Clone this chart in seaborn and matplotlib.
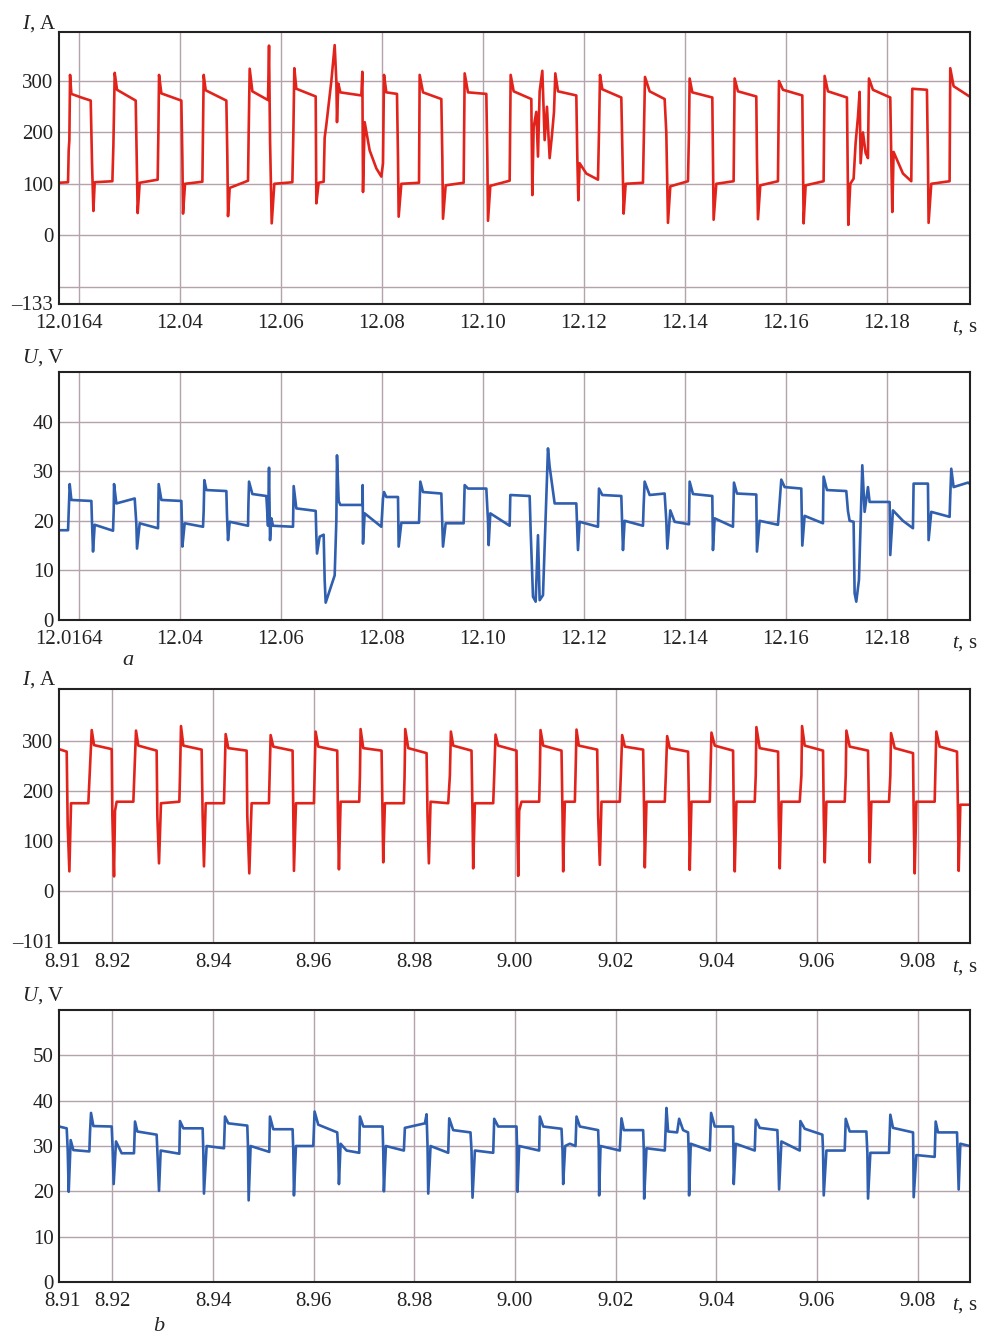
#!/usr/bin/env python3
import matplotlib
matplotlib.use('Agg')
import numpy as np
import pandas as pd
import seaborn as sns
from matplotlib import pyplot as plt
from matplotlib.transforms import ScaledTranslation

# ---- panel a: t in ms after 12.000 s ----
a_ms = [16.1, 17.89, 18.02, 18.15, 18.29, 18.55, 20.53, 22.38, 22.64, 22.91, 23.17,
        26.67, 26.87, 27.13, 27.59, 31.29, 31.55, 31.68, 32.08,
        35.64, 35.78, 35.91, 36.37, 40.33, 40.53, 40.66, 41.06,
        44.49, 44.62, 44.75, 45.15, 49.24, 49.44, 49.57, 49.90,
        53.53, 53.66, 53.86, 54.39, 57.49, 57.69, 57.89, 58.22, 58.74,
        62.31, 62.51, 62.70, 63.10, 66.93, 67.06, 67.52, 68.51, 68.71,
        69.04, 69.57, 70.03, 70.69, 71.02, 71.15, 71.42, 71.81,
        75.97, 76.17, 76.30, 76.63, 77.62, 78.94, 79.93,
        80.26, 80.46, 80.92, 83.03, 83.23, 83.36, 83.89,
        87.39, 87.52, 88.18, 91.81, 92.01, 92.14, 92.67,
        96.23, 96.43, 97.09, 100.72, 100.92, 101.05, 101.51,
        105.34, 105.54, 106.13, 109.63, 109.83, 110.09, 110.62, 110.95, 111.28,
        111.81, 112.27, 112.73, 113.26, 113.72, 114.12, 114.38, 114.91,
        118.54, 118.74, 118.94, 119.20, 120.52, 122.83,
        123.03, 123.23, 123.69, 127.45, 127.65, 127.91, 128.31,
        131.74, 131.94, 132.14, 133.06, 136.03, 136.36, 136.69, 137.15,
        140.65, 140.85, 140.98, 141.51, 145.47, 145.60, 145.73, 146.26,
        149.69, 149.89, 150.55, 154.18, 154.31, 154.51, 154.97,
        158.47, 158.67, 159.46, 163.29, 163.42, 163.55, 163.95,
        167.51, 167.71, 168.37, 172.13, 172.26, 172.40, 172.79,
        173.45, 173.85, 174.31, 174.64, 174.84, 175.30, 175.83, 176.29,
        176.49, 177.28, 180.71, 180.91, 181.11, 181.37, 183.22, 184.87,
        185.07, 187.97, 188.17, 188.30, 188.83, 192.46, 192.59, 193.25, 196.09, 196.4]
a_current = [102, 103, 165, 185, 312, 275, 268, 262, 140, 47, 103,
             105, 175, 316, 283, 262, 120, 43, 102,
             108, 200, 312, 276, 262, 150, 42, 100,
             104, 200, 312, 282, 262, 150, 37, 92,
             106, 200, 324, 280, 263, 369, 185, 23, 100,
             103, 200, 325, 285, 270, 62, 102, 104, 190,
             215, 260, 300, 370, 300, 220, 295, 278,
             272, 318, 84, 220, 165, 130, 114,
             140, 312, 278, 275, 150, 36, 100,
             102, 312, 278, 265, 150, 32, 97,
             102, 315, 278, 275, 150, 28, 96,
             106, 312, 280, 265, 78, 210, 240, 153, 280,
             320, 185, 250, 150, 195, 240, 315, 280,
             272, 150, 68, 140, 120, 108,
             200, 312, 284, 268, 170, 42, 100,
             102, 200, 308, 280, 265, 200, 24, 95,
             105, 200, 305, 278, 268, 150, 30, 100,
             105, 305, 280, 270, 150, 31, 97,
             105, 300, 283, 272, 150, 23, 97,
             105, 310, 280, 268, 150, 20, 100,
             110, 180, 230, 279, 140, 200, 160, 150,
             305, 283, 268, 150, 45, 162, 120, 105,
             285, 283, 150, 24, 100, 105, 325, 290, 272, 270]

a_ms_u = [16.1, 17.89, 18.02, 18.22, 18.55, 22.51, 22.64, 22.84, 23.17,
          26.80, 26.93, 27.00, 27.46, 31.09, 31.42, 31.55, 32.08,
          35.71, 35.84, 36.37, 40.33, 40.46, 40.53, 40.99,
          44.62, 44.75, 44.88, 45.28, 49.24, 49.37, 49.57, 49.90,
          53.53, 53.60, 53.73, 54.39, 57.16, 57.49, 57.69, 57.89, 58.15, 58.48,
          62.44, 62.57, 63.10, 66.93, 67.06, 67.19, 67.72, 68.51,
          68.71, 68.91, 70.69, 71.02, 71.15, 71.48, 71.81,
          76.17, 76.23, 76.30, 76.63, 79.93, 80.26, 80.46, 80.92,
          83.23, 83.36, 83.89, 87.39, 87.65, 88.18,
          91.81, 92.01, 92.14, 92.67, 96.23, 96.43, 97.09,
          100.72, 101.05, 101.18, 101.51, 105.34, 105.47,
          109.30, 109.50, 109.96, 110.49, 110.95, 111.28, 111.94, 112.93, 113.26, 114.25,
          118.54, 118.87, 119.20, 122.83, 123.03, 123.69,
          127.45, 127.78, 128.11, 131.74, 131.87, 132.07,
          133.06, 136.03, 136.36, 136.56, 137.15, 138.01,
          140.85, 140.98, 141.64, 145.47, 145.60, 145.93,
          149.56, 149.76, 150.35, 154.18, 154.31, 154.84,
          158.47, 159.13, 159.79, 163.09, 163.29, 163.75,
          167.38, 167.51, 168.17, 172.00, 172.33, 172.66,
          173.45, 173.65, 173.98, 174.51, 175.17, 175.63, 176.29, 176.62,
          180.58, 180.71, 181.24, 183.22, 185.20, 185.33,
          188.17, 188.30, 188.83, 192.46, 192.59, 192.79, 193.25, 196.09, 196.4]
a_voltage = [18.1, 18.1, 22, 27.4, 24.2, 24.0, 19.6, 13.8, 19.2,
             18.0, 22, 27.4, 23.5, 24.5, 19.3, 14.4, 19.5,
             18.5, 27.4, 24.2, 24.0, 19, 14.8, 19.5,
             18.8, 22, 28.2, 26.2, 26.0, 21, 16.1, 19.8,
             19.0, 23, 27.9, 25.4, 25.0, 19, 30.7, 16.1, 20.5, 19.0,
             18.8, 27.0, 22.5, 22.0, 17, 13.4, 16.8, 17.2,
             8, 3.5, 9.0, 20, 33.2, 24, 23.2,
             23.2, 27.2, 15.4, 21.5, 18.8, 24.5, 25.8, 24.8,
             24.8, 14.8, 19.6, 19.6, 27.9, 25.8,
             25.5, 19, 14.8, 19.5, 19.5, 27.2, 26.5,
             26.5, 20, 15.1, 21.5, 19.0, 25.2,
             25.0, 18, 4.7, 3.7, 17.1, 4.0, 5.0, 34.6, 30.9, 23.5,
             23.5, 14.1, 19.8, 18.8, 26.5, 25.2,
             25.0, 14.1, 20.0, 19.0, 23, 27.9,
             25.2, 25.5, 20, 14.4, 22.1, 19.8,
             19.3, 27.9, 25.4, 25.0, 14.1, 20.5,
             18.8, 27.7, 25.5, 25.3, 13.8, 20.0,
             19.2, 28.3, 26.8, 26.5, 15.0, 21.0,
             19.5, 28.9, 26.2, 26.0, 22, 20,
             19.8, 5.4, 3.7, 8.1, 31.2, 21.8, 26.8, 23.8,
             23.8, 13.1, 22.1, 20.0, 18.5, 27.5,
             27.5, 16.1, 21.8, 20.8, 25, 30.5, 26.8, 27.7, 27.5]

# ---- panel b: t in ms after 8.900 s ----
b_ms = [9.4, 10.93, 11.13, 11.46, 11.79, 15.23, 15.43, 15.90, 16.36,
        19.87, 20.00, 20.33, 20.53, 20.86, 24.17, 24.37, 24.70, 25.16,
        28.80, 28.94, 29.27, 29.66, 33.31, 33.44, 33.64, 34.10,
        37.74, 37.94, 38.20, 38.54, 42.18, 42.31, 42.51, 43.04,
        46.68, 46.81, 47.21, 47.67, 51.11, 51.25, 51.45, 51.97,
        55.81, 55.95, 56.08, 56.48, 60.05, 60.18, 60.38, 60.91,
        64.68, 64.82, 65.02, 65.35, 69.05, 69.19, 69.32, 69.85,
        73.49, 73.69, 73.82, 74.15, 77.92, 78.06, 78.19, 78.79,
        82.43, 82.62, 82.89, 83.22, 86.73, 87.06, 87.26, 87.72,
        91.36, 91.56, 91.69, 92.03, 95.67, 95.87, 96.13, 96.66,
        100.30, 100.43, 100.63, 100.83, 101.29, 104.80, 104.93, 105.07, 105.60,
        109.24, 109.44, 109.57, 109.90, 111.89, 112.02, 112.22, 112.68,
        116.33, 116.52, 116.85, 117.18, 120.82, 121.02, 121.29, 121.82,
        125.46, 125.66, 125.79, 126.12, 129.76, 129.96, 130.23, 130.75,
        134.39, 134.59, 134.72, 135.06, 138.70, 138.83, 139.03, 139.69,
        143.33, 143.46, 143.66, 143.99, 147.63, 147.83, 147.96, 148.62,
        152.27, 152.40, 152.60, 152.93, 156.57, 156.90, 157.03, 157.56,
        161.20, 161.34, 161.54, 161.87, 165.51, 165.71, 165.84, 166.50,
        170.14, 170.34, 170.47, 170.80, 174.31, 174.57, 174.71, 175.44,
        179.08, 179.21, 179.41, 179.74, 183.38, 183.51, 183.71, 184.37,
        187.82, 188.02, 188.15, 188.48, 190.3]
b_current = [283, 278, 130, 39, 175, 175, 220, 321, 291,
             283, 150, 29, 160, 178, 178, 230, 320, 290,
             280, 150, 55, 175, 178, 230, 329, 290,
             282, 150, 49, 175, 175, 230, 313, 285,
             280, 150, 35, 175, 175, 230, 311, 288,
             280, 150, 40, 175, 175, 230, 318, 288,
             280, 150, 43, 178, 178, 230, 323, 285,
             280, 150, 57, 175, 175, 230, 323, 285,
             275, 150, 55, 178, 175, 230, 318, 290,
             280, 150, 45, 175, 175, 230, 312, 290,
             280, 150, 30, 160, 178, 178, 230, 321, 290,
             280, 150, 39, 178, 178, 230, 322, 290,
             282, 150, 52, 178, 178, 230, 311, 288,
             282, 150, 47, 178, 178, 230, 309, 285,
             278, 150, 42, 178, 178, 230, 316, 290,
             280, 150, 39, 178, 178, 230, 327, 285,
             278, 150, 45, 178, 178, 230, 329, 290,
             280, 150, 57, 178, 178, 230, 320, 288,
             280, 150, 57, 178, 178, 230, 315, 285,
             275, 150, 35, 178, 178, 230, 318, 288,
             278, 150, 40, 172, 172]

b_ms_u = [9.4, 10.93, 11.13, 11.33, 11.72, 12.25, 15.43, 15.56, 15.76, 16.23,
          19.87, 20.07, 20.26, 20.73, 21.85, 24.30, 24.50, 24.96,
          28.80, 28.94, 29.27, 29.60, 33.31, 33.44, 34.10,
          37.94, 38.07, 38.20, 38.73, 42.18, 42.38, 43.04,
          46.81, 46.94, 47.08, 47.47, 51.18, 51.31, 51.97,
          55.81, 55.95, 56.08, 56.48, 59.92, 60.18, 60.91,
          64.68, 64.88, 65.02, 65.35, 66.54, 69.05, 69.19, 69.85,
          73.69, 73.82, 73.95, 74.35, 77.92, 78.12, 82.10, 82.43, 82.62, 82.76, 83.22,
          86.73, 86.93, 87.72, 91.16, 91.36, 91.56, 92.03, 95.67, 95.87, 96.66,
          100.30, 100.43, 100.50, 100.83, 104.80, 104.93, 105.60,
          109.24, 109.44, 109.57, 109.97, 110.89, 112.02, 112.22, 112.88,
          116.52, 116.65, 116.72, 116.99, 120.82, 121.15, 121.62,
          125.46, 125.59, 125.66, 126.12, 129.76, 130.09, 130.42, 132.21, 132.61, 133.40,
          134.39, 134.53, 134.59, 134.92, 138.70, 138.96, 139.69,
          143.33, 143.40, 143.46, 143.86, 147.63, 147.83, 148.62,
          152.13, 152.27, 152.47, 152.93, 156.57, 156.70, 157.56,
          161.07, 161.20, 161.34, 161.87, 165.51, 165.71, 166.50,
          169.81, 170.01, 170.14, 170.60, 174.31, 174.57, 175.10,
          179.08, 179.14, 179.21, 179.74, 183.38, 183.58, 184.04,
          187.82, 187.95, 188.15, 188.48, 190.3]
b_voltage = [34.3, 33.9, 29.1, 19.9, 31.3, 29.1, 28.8, 33, 37.3, 34.4,
             34.3, 29, 21.6, 31, 28.4, 28.4, 35.4, 33.2,
             32.5, 29, 20.1, 29, 28.3, 35.5, 33.9,
             33.9, 29, 19.5, 30, 29.5, 36.5, 35.0,
             34.5, 30, 18, 30, 28.7, 36.5, 33.7,
             33.7, 29, 19.1, 30, 30, 37.6, 34.7,
             33, 29, 21.6, 30.5, 29, 28.5, 36.5, 34.3,
             34.3, 29, 20, 30, 29, 34, 35, 37, 30, 19.5, 30,
             28.5, 36.1, 33.5, 33, 29, 18.6, 29, 28.5, 36, 34.3,
             34.3, 29, 19.9, 30, 29, 36.5, 34.3,
             33.8, 29, 21.6, 30, 30.5, 30, 36.5, 34.3,
             33.5, 29, 19.1, 30, 29, 36.1, 33.5,
             33.5, 29, 18.4, 29.5, 29, 38.4, 33.2, 33, 36, 33.5,
             33, 28, 19.1, 30.5, 29, 37.3, 34.3,
             34.3, 29, 21.6, 30.5, 29, 35.8, 34,
             33.5, 29, 20.4, 31, 29, 35.5, 33.8,
             32.5, 29, 19.1, 29, 29, 36, 33.2,
             33.2, 28.5, 18.4, 28.5, 28.5, 36.9, 34,
             33, 28, 18.7, 28, 27.6, 35.4, 33,
             33, 28, 20.4, 30.5, 30]

# ---- axes / tick setup ----
a_xticks = [12.0164, 12.04, 12.06, 12.08, 12.10, 12.12, 12.14, 12.16, 12.18]
a_xlabels = ['12.0164', '12.04', '12.06', '12.08', '12.10', '12.12', '12.14', '12.16', '12.18']
a_xgrid = [12.02, 12.04, 12.06, 12.08, 12.10, 12.12, 12.14, 12.16, 12.18]
b_xticks = [8.91, 8.92, 8.94, 8.96, 8.98, 9.00, 9.02, 9.04, 9.06, 9.08]
b_xlabels = ['8.91', '8.92', '8.94', '8.96', '8.98', '9.00', '9.02', '9.04', '9.06', '9.08']
b_xgrid = [8.92, 8.94, 8.96, 8.98, 9.00, 9.02, 9.04, 9.06, 9.08]

RED = '#e2231c'
BLUE = '#2f5fae'
GRID = '#b3a3ac'
W = 983
H = 1335


def fig_rect(left, top, right, bottom):
    return [left / W, 1 - bottom / H, (right - left) / W, (bottom - top) / H]


def draw_panel(fig, rect, t, y, color, xlim, ylim, xticks, xlabels, xgrid,
               yticks, ylabels, ygrid, ylab, ylab_y, tlab_y):
    ax = fig.add_axes(rect)
    df = pd.DataFrame({'t': t, 'y': y})
    sns.lineplot(data=df, x='t', y='y', ax=ax, color=color, linewidth=1.9,
                 estimator=None, sort=False)
    for g in xgrid:
        ax.axvline(g, color=GRID, lw=1.0, zorder=0)
    for g in ygrid:
        ax.axhline(g, color=GRID, lw=1.0, zorder=0)
    ax.set_xlim(*xlim)
    ax.set_ylim(*ylim)
    ax.set_xticks(xticks)
    ax.set_xticklabels(xlabels)
    ax.set_yticks(yticks)
    ax.set_yticklabels(ylabels)
    ax.tick_params(axis='both', length=0, labelsize=15, colors='#222222')
    ax.tick_params(axis='x', pad=7)
    ax.tick_params(axis='y', pad=4)
    ax.set(xlabel='', ylabel='')
    ax.grid(False)
    for s in ax.spines.values():
        s.set_color('#222222')
        s.set_linewidth(1.5)
    fig.text(22 / W, 1 - ylab_y / H, ylab, fontsize=15, ha='left',
             va='baseline', color='#222222')
    fig.text(978 / W, 1 - tlab_y / H, '$t$, s', fontsize=15, ha='right',
             va='baseline', color='#222222')
    return ax


if __name__ == '__main__':
    sns.set_style('white')
    plt.rcParams['font.family'] = ['Liberation Serif', 'DejaVu Serif']
    plt.rcParams['mathtext.fontset'] = 'custom'
    plt.rcParams['mathtext.rm'] = 'Liberation Serif'
    plt.rcParams['mathtext.it'] = 'Liberation Serif:italic'

    fig = plt.figure(figsize=(W / 100, H / 100), dpi=100)

    ta = 12.0 + np.array(a_ms) / 1000
    tau = 12.0 + np.array(a_ms_u) / 1000
    tb = 8.9 + np.array(b_ms) / 1000
    tbu = 8.9 + np.array(b_ms_u) / 1000

    ax1 = draw_panel(fig, fig_rect(59, 32, 969.5, 304), ta, a_current, RED,
                     (12.0161, 12.1964), (-134, 395.5), a_xticks, a_xlabels, a_xgrid,
                     [-133, 0, 100, 200, 300], ['\u2013133', '0', '100', '200', '300'],
                     [-100, 0, 100, 200, 300], '$I$, A', 29, 332)
    ax2 = draw_panel(fig, fig_rect(59, 372, 969.5, 620), tau, a_voltage, BLUE,
                     (12.0161, 12.1964), (0, 50), a_xticks, a_xlabels, a_xgrid,
                     [0, 10, 20, 30, 40], ['0', '10', '20', '30', '40'],
                     [10, 20, 30, 40], '$U$, V', 363, 648)
    ax3 = draw_panel(fig, fig_rect(59, 689, 969.5, 943), tb, b_current, RED,
                     (8.9094, 9.0903), (-104, 403), b_xticks, b_xlabels, b_xgrid,
                     [-101, 0, 100, 200, 300], ['\u2013101', '0', '100', '200', '300'],
                     [0, 100, 200, 300], '$I$, A', 685, 972)
    ax4 = draw_panel(fig, fig_rect(59, 1010, 969.5, 1282), tbu, b_voltage, BLUE,
                     (8.9094, 9.0903), (0, 60), b_xticks, b_xlabels, b_xgrid,
                     [0, 10, 20, 30, 40, 50], ['0', '10', '20', '30', '40', '50'],
                     [10, 20, 30, 40, 50], '$U$, V', 1001, 1310)

    # first label "12.0164" sits a bit to the right of the axis edge
    for ax in (ax1, ax2):
        lab = ax.get_xticklabels()[0]
        lab.set_transform(lab.get_transform() + ScaledTranslation(0.08, 0, fig.dpi_scale_trans))

    fig.text(128 / W, 1 - 665 / H, '$a$', fontsize=16, ha='center', va='baseline')
    fig.text(159 / W, 1 - 1331 / H, '$b$', fontsize=16, ha='center', va='baseline')

    plt.savefig('out.png', dpi=100)
